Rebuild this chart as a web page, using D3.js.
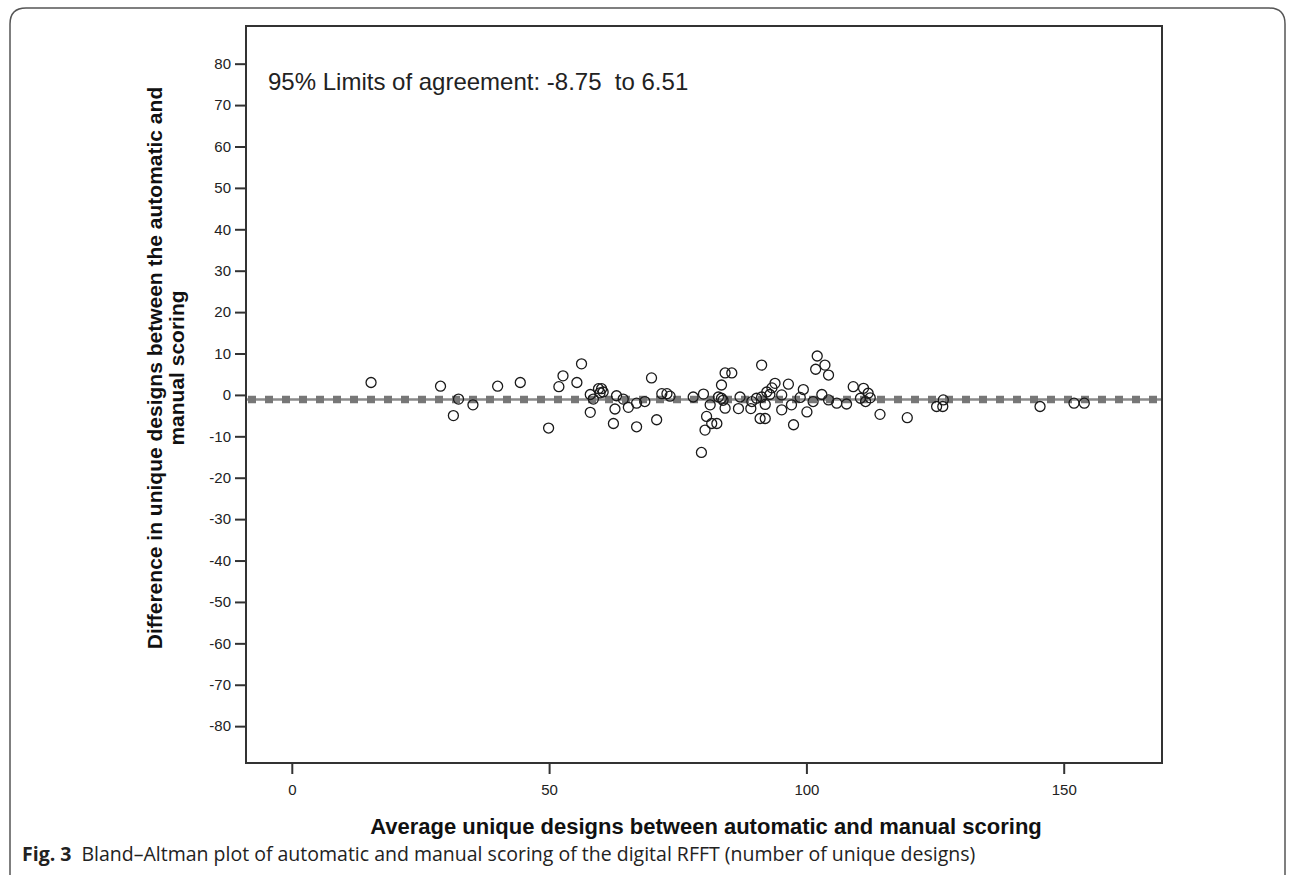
<!DOCTYPE html>
<html><head><meta charset="utf-8">
<script src="https://cdn.jsdelivr.net/npm/d3@7"></script>
<style>body{margin:0;background:#fff}svg{display:block}</style>
</head><body>
<svg id="c" width="1295" height="875"></svg>
<script>
const avgValues = [15.4,28.9,31.4,32.4,35.2,40.0,44.4,49.9,51.9,52.7,55.4,56.3,58.0,58.6,58.0,59.6,60.2,60.5,59.9,63.1,64.4,62.8,65.4,67.0,68.6,62.5,67.0,70.9,69.9,71.9,72.9,73.5,78.0,80.0,82.9,83.5,83.8,81.3,84.2,80.6,81.6,82.6,80.3,83.5,84.2,85.5,87.1,86.8,89.2,89.4,90.3,91.3,92.3,92.9,93.3,93.9,91.0,92.0,92.0,91.3,95.2,95.2,96.5,97.1,97.5,98.8,99.4,100.1,102.1,101.8,103.6,104.3,103.0,101.3,104.3,105.9,107.8,109.1,111.1,112.0,112.4,110.5,111.5,114.3,119.6,125.3,126.5,126.6,145.4,152.0,154.0,79.6];
const diffValues = [3.0,2.1,-5.0,-1.0,-2.4,2.1,3.0,-8.0,2.0,4.6,3.0,7.5,0.1,-1.0,-4.2,1.5,1.5,0.7,0.5,-0.2,-1.0,-3.4,-3.0,-2.0,-1.6,-6.9,-7.7,-6.0,4.1,0.3,0.3,-0.3,-0.5,0.2,-0.5,-0.8,-1.3,-2.4,-3.2,-5.2,-6.9,-6.9,-8.5,2.4,5.3,5.3,-0.5,-3.3,-3.3,-1.6,-0.8,-0.5,0.7,0.1,1.7,2.8,-5.7,-5.7,-2.3,7.2,0.0,-3.6,2.6,-2.4,-7.2,-0.6,1.3,-4.1,9.4,6.2,7.2,4.8,0.1,-1.6,-1.2,-2.0,-2.2,2.0,1.6,0.4,-0.7,-0.8,-1.6,-4.7,-5.5,-2.8,-2.8,-1.2,-2.8,-2.0,-2.0,-13.9];
const xTicks = [0,50,100,150];
const yTicks = [80,70,60,50,40,30,20,10,0,-10,-20,-30,-40,-50,-60,-70,-80];
const limits = [-8.75, 6.51];
const meanDiff = (limits[0] + limits[1]) / 2;
const annotation = "95% Limits of agreement: -8.75  to 6.51";
const xTitle = "Average unique designs between automatic and manual scoring";
const yTitleLines = ["Difference in unique designs between the automatic and", "manual scoring"];
const captionBold = "Fig. 3";
const captionText = "Bland\u2013Altman plot of automatic and manual scoring of the digital RFFT (number of unique designs)";

const svg = d3.select("#c");
const L = 246, R = 1162, T = 26, B = 763;
const x = d3.scaleLinear().domain([-8.9, 169.1]).range([L, R]);
const y = d3.scaleLinear().domain([-88.9, 89.1]).range([B, T]);

// outer border
svg.append("path")
  .attr("d", `M10,875 L10,24 Q10,8 26,8 L1269,8 Q1285,8 1285,24 L1285,875`)
  .attr("fill", "none").attr("stroke", "#555").attr("stroke-width", 1.5);

const font = "'Liberation Sans', Arial, sans-serif";

// mean line
const g = svg.append("g");
g.append("line").attr("x1", L).attr("x2", R).attr("y1", y(meanDiff)).attr("y2", y(meanDiff))
  .attr("stroke", "#8a8a8a").attr("stroke-width", 2.5);
g.append("line").attr("x1", L + 2).attr("x2", R).attr("y1", y(meanDiff)).attr("y2", y(meanDiff))
  .attr("stroke", "#777").attr("stroke-width", 7.5).attr("stroke-dasharray", "8,9");

// points
svg.append("g").selectAll("circle").data(avgValues.map((a, i) => [a, diffValues[i]]))
  .join("circle")
  .attr("cx", d => x(d[0])).attr("cy", d => y(d[1])).attr("r", 5)
  .attr("fill", "none").attr("stroke", "#1a1a1a").attr("stroke-width", 1.3);

// frame
svg.append("rect").attr("x", L).attr("y", T).attr("width", R - L).attr("height", B - T)
  .attr("fill", "none").attr("stroke", "#333").attr("stroke-width", 2);

const fmt = d => String(d);

// y axis
const ya = svg.append("g").attr("transform", `translate(${L},0)`)
  .call(d3.axisLeft(y).tickValues(yTicks).tickSize(11).tickPadding(4).tickFormat(fmt));
ya.select(".domain").remove();
ya.selectAll(".tick line").attr("stroke", "#333").attr("stroke-width", 2);
ya.selectAll(".tick text").attr("font-family", font).attr("font-size", 15).attr("fill", "#222");

// x axis
const xa = svg.append("g").attr("transform", `translate(0,${B})`)
  .call(d3.axisBottom(x).tickValues(xTicks).tickSize(11).tickPadding(10).tickFormat(fmt));
xa.select(".domain").remove();
xa.selectAll(".tick line").attr("stroke", "#333").attr("stroke-width", 2);
xa.selectAll(".tick text").attr("font-family", font).attr("font-size", 15).attr("fill", "#222");

// annotation
svg.append("text").attr("x", 268).attr("y", 90).attr("font-family", font).attr("font-size", 24)
  .attr("fill", "#222").attr("xml:space", "preserve").style("white-space", "pre").text(annotation);

// x title
svg.append("text").attr("x", (L + R) / 2 + 2).attr("y", 834).attr("text-anchor", "middle")
  .attr("font-family", font).attr("font-size", 22).attr("font-weight", "bold").attr("fill", "#111").text(xTitle);

// y title
const yt = svg.append("text").attr("transform", "translate(162,368) rotate(-90)")
  .attr("text-anchor", "middle").attr("font-family", font).attr("font-size", 21)
  .attr("font-weight", "bold").attr("fill", "#111");
yTitleLines.forEach((t, i) => yt.append("tspan").attr("x", 0).attr("dy", i === 0 ? 0 : 22).text(t));

// caption
const cap = svg.append("text").attr("x", 22).attr("y", 861).attr("font-family", "'Open Sans', 'Noto Sans', sans-serif")
  .attr("font-size", 19.5).attr("fill", "#222");
cap.append("tspan").attr("font-weight", "bold").text(captionBold);
cap.append("tspan").attr("dx", 10).text(captionText);
</script>
</body></html>
